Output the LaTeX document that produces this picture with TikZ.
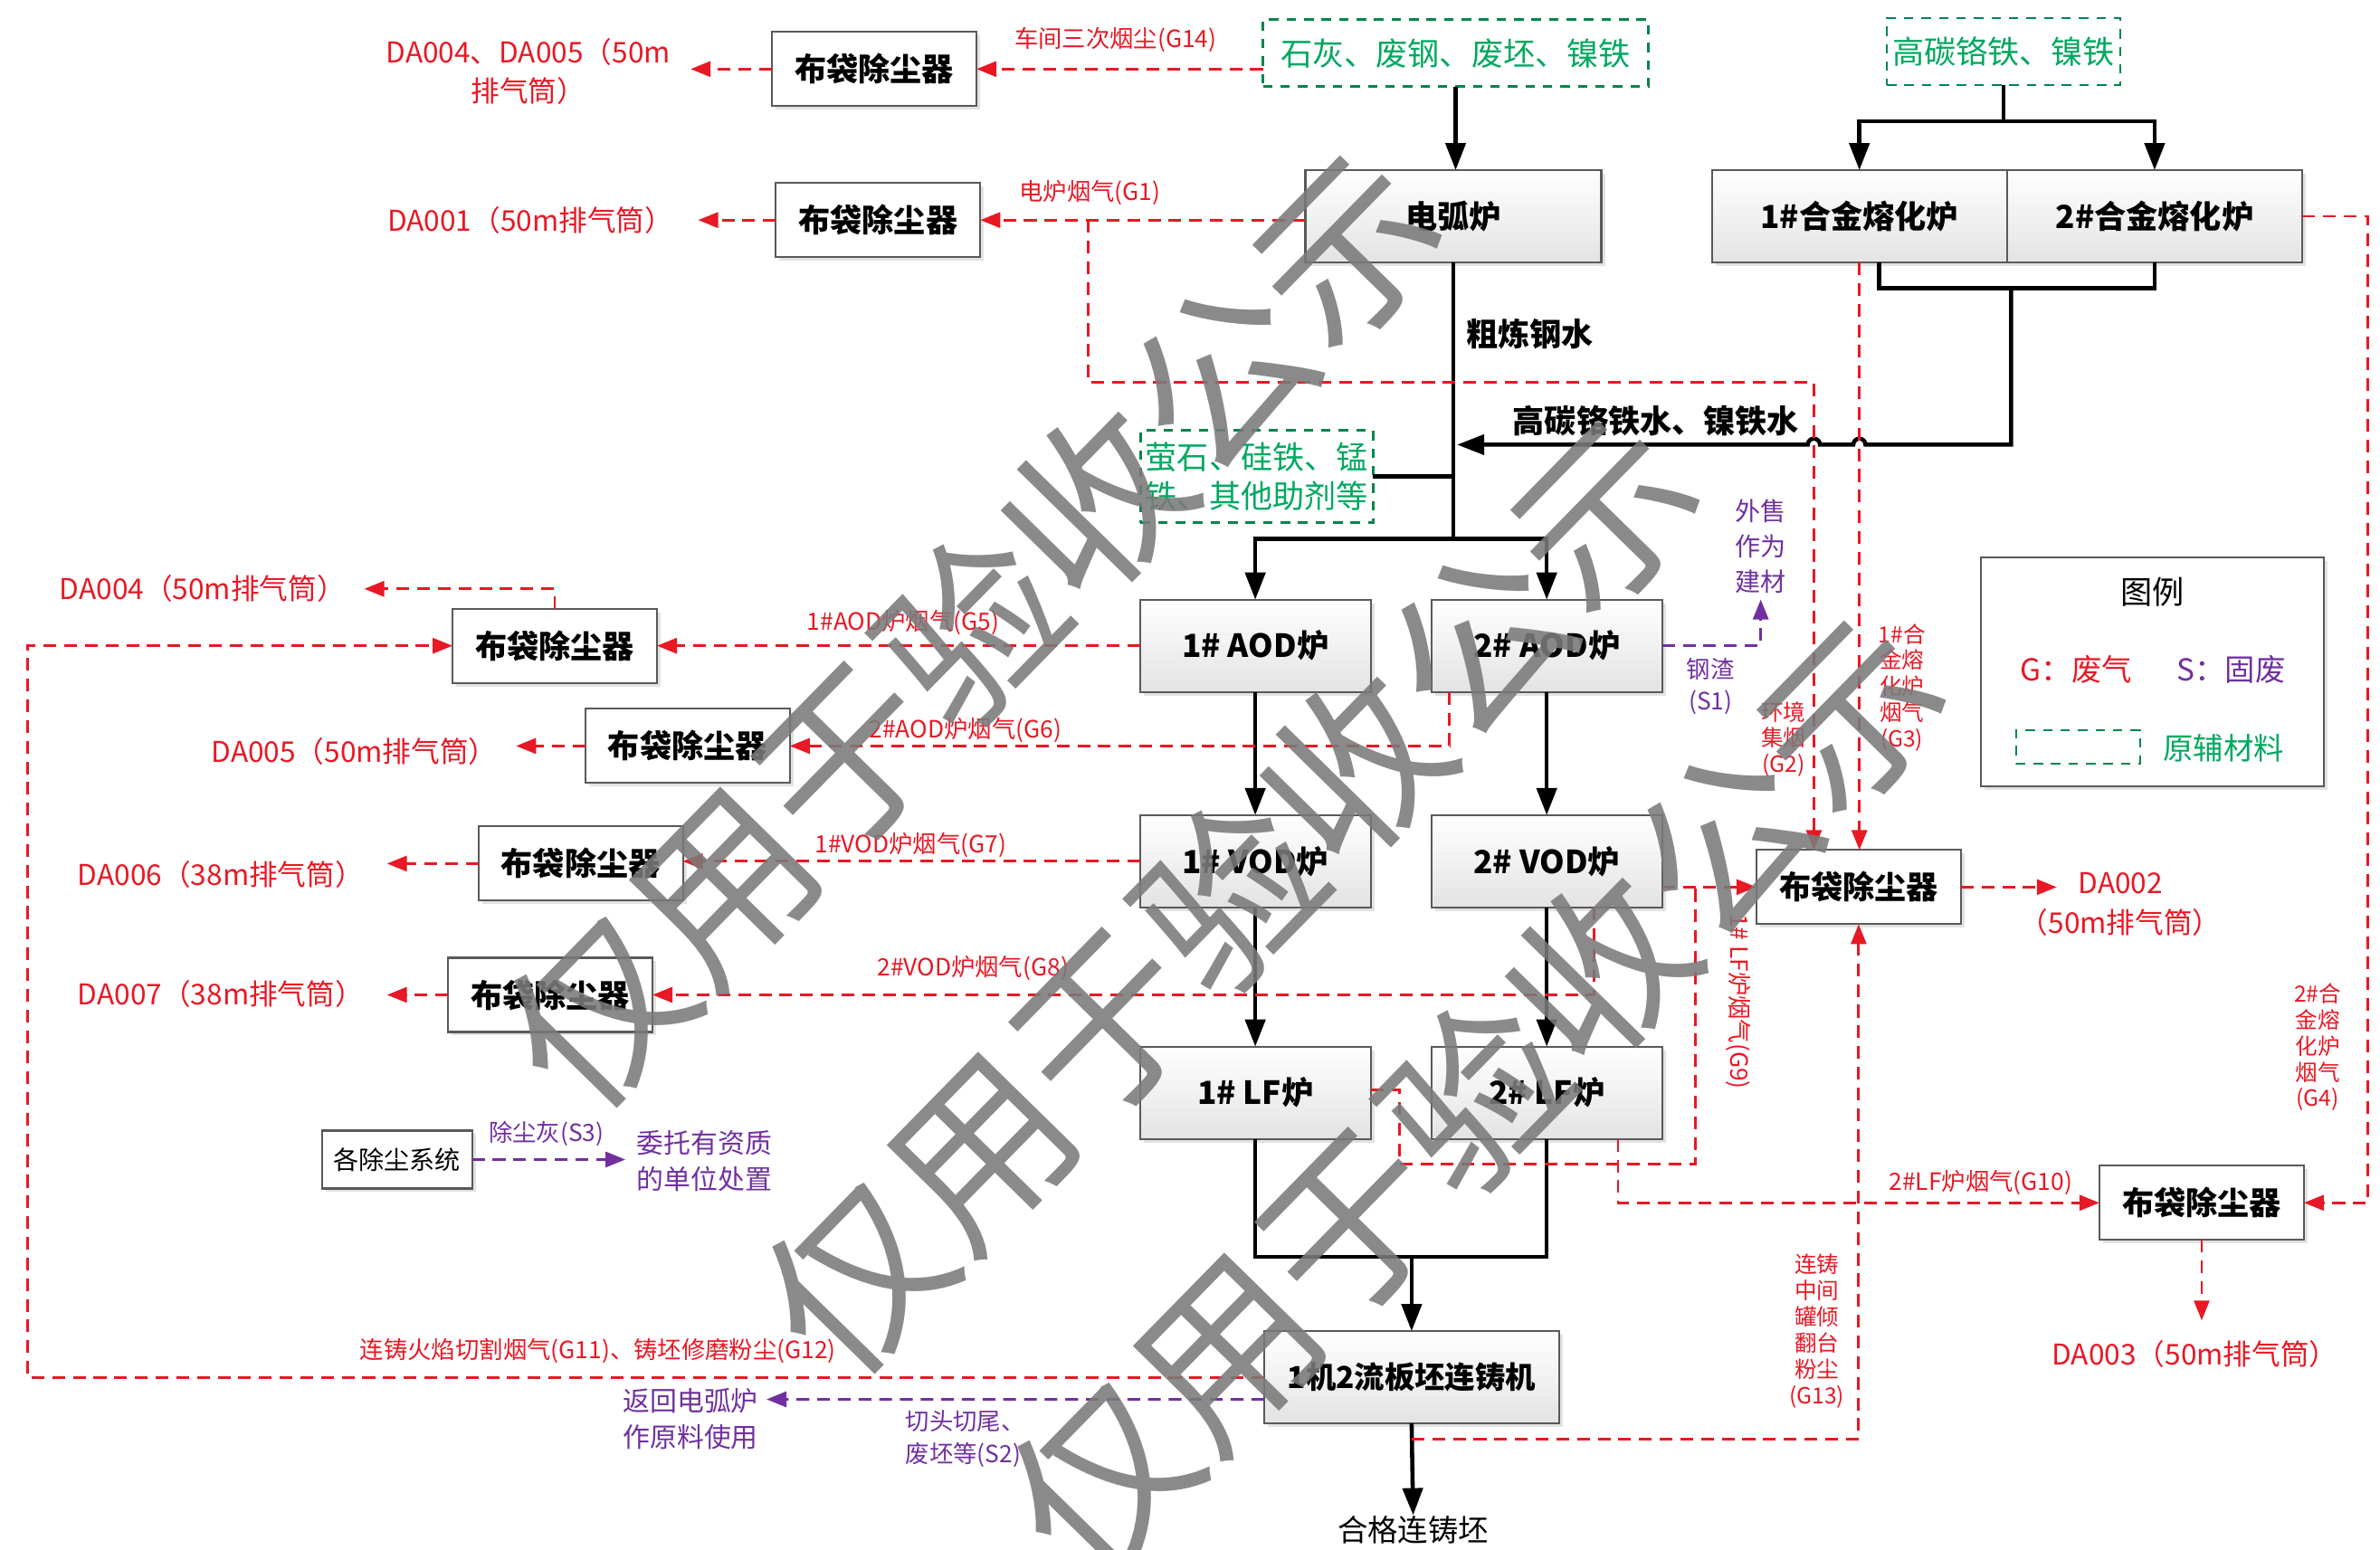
\documentclass[tikz,border=0pt]{standalone}
\usepackage{fontspec}
\setmainfont{Noto Sans CJK SC}
\usetikzlibrary{arrows.meta,shadows,calc}

\definecolor{gasred}{RGB}{232,24,36}
\definecolor{slagpurple}{RGB}{112,48,160}
\definecolor{rawgreen}{RGB}{0,168,96}

\tikzset{
  bagbox/.style={draw=gray!70!black,fill=white,line width=0.6pt,minimum width=22.6mm,minimum height=8.2mm,
    inner sep=0pt,outer sep=0pt,font=\bfseries\fontsize{10}{12}\selectfont,
    drop shadow={shadow xshift=0.4mm,shadow yshift=-0.4mm,fill=gray!45}},
  furnace/.style={draw=gray!70!black,top color=white,bottom color=gray!22,line width=0.6pt,
    minimum width=25.5mm,minimum height=10.2mm,inner sep=0pt,outer sep=0pt,
    font=\bfseries\fontsize{10}{12}\selectfont,
    drop shadow={shadow xshift=0.4mm,shadow yshift=-0.4mm,fill=gray!45}},
  rawbox/.style={draw=rawgreen!80!black,dash pattern=on 3pt off 2.5pt,line width=0.7pt,
    minimum height=7.4mm,inner sep=1pt,outer sep=0pt,text=rawgreen,font=\fontsize{10}{12.5}\selectfont},
  flow/.style={line width=1.3pt,black},
  flowarrow/.style={flow,-{Triangle[length=3mm,width=2.2mm]}},
  gas/.style={gasred,line width=0.8pt,dash pattern=on 4pt off 2.5pt},
  gasarrow/.style={gas,-{Triangle[length=2.2mm,width=1.7mm]}},
  slag/.style={slagpurple,line width=0.8pt,dash pattern=on 4pt off 2.5pt,-{Triangle[length=2.2mm,width=1.7mm]}},
  gaslabel/.style={text=gasred,inner sep=0pt,font=\fontsize{7.5}{9}\selectfont},
  stacklabel/.style={text=gasred,inner sep=0pt,align=center,font=\fontsize{7}{8.2}\selectfont},
  slaglabel/.style={text=slagpurple,inner sep=0pt,align=center,font=\fontsize{7.5}{10}\selectfont},
  outlet/.style={text=gasred,inner sep=0pt,align=center,font=\fontsize{9}{12.4}\selectfont},
  plain/.style={inner sep=0pt,font=\fontsize{9.5}{11}\selectfont},
  boldtext/.style={inner sep=0pt,font=\bfseries\fontsize{10}{12}\selectfont},
  watermark/.style={text=black!52,text opacity=0.88,inner sep=0pt,font=\fontsize{56}{60}\selectfont}
}

\begin{document}
\begin{tikzpicture}[x=0.16773mm,y=-0.16773mm]
\useasboundingbox (0,0) rectangle (1568,1021);

% raw materials
\draw (959,35) node[rawbox,minimum width=42.6mm](rawa){石灰、废钢、废坯、镍铁};
\draw (1320,34) node[rawbox,minimum width=25.8mm](rawb){高碳铬铁、镍铁};
\draw (828,314) node[rawbox,minimum width=25.7mm,minimum height=10.2mm,align=left](rawc){萤石、硅铁、锰\\铁、其他助剂等};

% furnaces
\draw (957.5,142.5) node[furnace,minimum width=32.7mm](eaf){电弧炉};
\draw (1225,142.5) node[furnace,minimum width=32.6mm](alloya){1\#合金熔化炉};
\draw (1419.5,142.5) node[furnace,minimum width=32.6mm](alloyb){2\#合金熔化炉};
\draw (827,425.5) node[furnace](aoda){1\# AOD炉};
\draw (1019,425.5) node[furnace](aodb){2\# AOD炉};
\draw (827,567.5) node[furnace](voda){1\# VOD炉};
\draw (1019,567.5) node[furnace](vodb){2\# VOD炉};
\draw (827,720) node[furnace](lfa){1\# LF炉};
\draw (1019,720) node[furnace](lfb){2\# LF炉};
\draw (930,907.5) node[furnace,minimum width=32.6mm,font=\bfseries\fontsize{9.5}{11}\selectfont](caster){1机2流板坯连铸机};
\draw (931,1008) node[plain](slab){合格连铸坯};

% bag filters
\draw (576,45.5) node[bagbox](baga){布袋除尘器};
\draw (578.5,145) node[bagbox](bagb){布袋除尘器};
\draw (365.5,425.5) node[bagbox](bagc){布袋除尘器};
\draw (453,491.5) node[bagbox](bagd){布袋除尘器};
\draw (382.5,569) node[bagbox](bage){布袋除尘器};
\draw (362.5,655.5) node[bagbox](bagf){布袋除尘器};
\draw (1224.5,584.5) node[bagbox](bagg){布袋除尘器};
\draw (1450.5,792.5) node[bagbox](bagh){布袋除尘器};
\draw (261.5,764) node[bagbox,minimum width=16.6mm,minimum height=6.4mm,font=\fontsize{8}{10}\selectfont](dustsys){各除尘系统};

% stacks
\draw (348,47) node[outlet](stackab){DA004、DA005（50m\\排气筒）};
\draw (444,145) node[outlet,anchor=east](stacka){DA001（50m排气筒）};
\draw (228,388) node[outlet,anchor=east](stackd){DA004（50m排气筒）};
\draw (328,495) node[outlet,anchor=east](stacke){DA005（50m排气筒）};
\draw (240,576) node[outlet,anchor=east](stackf){DA006（38m排气筒）};
\draw (240,655) node[outlet,anchor=east](stackg){DA007（38m排气筒）};
\draw (1397,596) node[outlet](stackb){DA002\\（50m排气筒）};
\draw (1446,892) node[outlet](stackc){DA003（50m排气筒）};

% free ends
\coordinate (outab) at (455,45.5);
\coordinate (outa) at (460,145);
\coordinate (outd) at (240,388);
\coordinate (oute) at (340,491.5);
\coordinate (outf) at (255,569);
\coordinate (outg) at (255,655.5);
\coordinate (outb) at (1355,584.5);
\coordinate (outc) at (1450.5,870);

% main flow
\draw[flowarrow] (rawa.south) -- (rawa.south |- eaf.north);
\coordinate (splitb) at (1320,80);
\draw[flow] (rawb.south) -- (splitb);
\draw[flowarrow] (splitb) -| (alloya.north);
\draw[flowarrow] (splitb) -| (alloyb.north);
\coordinate (mergeb) at (1325,190);
\coordinate (hotin) at (960,293);
\draw[flow] ($(alloya.south)+(13,0)$) |- (mergeb) -| (alloyb.south);
\draw[flowarrow] (mergeb) -- (1325,293) -- (1229,293) arc[start angle=0,end angle=-180,radius=4]
  -- (1199,293) arc[start angle=0,end angle=-180,radius=4] -- (hotin);
\coordinate (splita) at (957.5,355);
\draw[flow] (eaf.south) -- (splita);
\draw[flow] (rawc.east) -- (rawc.east -| eaf.south);
\draw[flowarrow] (splita) -| (aoda.north);
\draw[flowarrow] (splita) -| (aodb.north);
\draw[flowarrow] (aoda) -- (voda);
\draw[flowarrow] (aodb) -- (vodb);
\draw[flowarrow] (voda) -- (lfa);
\draw[flowarrow] (vodb) -- (lfb);
\coordinate (mergea) at (930,828);
\draw[flow] (lfa.south) |- (mergea) -| (lfb.south);
\draw[flowarrow] (mergea) -- (caster.north);
\draw[flowarrow] (caster.south) -- (slab.north);
\draw (1008,220) node[boldtext](crude){粗炼钢水};
\draw (1091,277) node[boldtext](hotmetal){高碳铬铁水、镍铁水};

% waste gas
\draw[gasarrow] (rawa.west |- baga.east) -- (baga.east);
\draw (735,26) node[gaslabel](lblgxiv){车间三次烟尘(G14)};
\draw[gasarrow] (baga.west) -- (outab);
\draw[gasarrow] (eaf.west |- bagb.east) -- (bagb.east);
\draw (718,127) node[gaslabel](lblgi){电炉烟气(G1)};
\draw[gasarrow] (bagb.west) -- (outa);
\coordinate (gtwoa) at (717,145);
\coordinate (gtwob) at (1195,252);
\draw[gasarrow] (gtwoa) |- (gtwob) -- (gtwob |- bagg.north);
\draw (1175,487) node[stacklabel](lblgii){环境\\集烟\\(G2)};
\draw[gasarrow] (alloya.south) -- (alloya.south |- bagg.north);
\draw (1253,453) node[stacklabel](lblgiii){1\#合\\金熔\\化炉\\烟气\\(G3)};
\coordinate (gfour) at (1560,142.5);
\draw[gasarrow] (alloyb.east) -- (gfour) |- (bagh.east);
\draw (1527,690) node[stacklabel](lblgiv){2\#合\\金熔\\化炉\\烟气\\(G4)};
\draw[gasarrow] (aoda.west) -- (bagc.east);
\draw (595,410) node[gaslabel](lblgv){1\#AOD炉烟气(G5)};
\draw[gasarrow] (bagc.north) |- (outd);
\coordinate (geleven) at (18,907.5);
\draw[gasarrow] (caster.west) -- (geleven) |- (bagc.west);
\draw (394,890) node[gaslabel](lblgxi){连铸火焰切割烟气(G11)、铸坯修磨粉尘(G12)};
\draw[gasarrow] ($(aodb.south west)+(12,0)$) |- (bagd.east);
\draw (636,481) node[gaslabel](lblgvi){2\#AOD炉烟气(G6)};
\draw[gasarrow] (bagd.west) -- (oute);
\draw[gasarrow] (voda.west) -- (voda.west -| bage.east);
\draw (600,557) node[gaslabel](lblgvii){1\#VOD炉烟气(G7)};
\draw[gasarrow] (bage.west) -- (outf);
\draw[gasarrow] ($(vodb.south)+(31,0)$) |- (bagf.east);
\draw (641,638) node[gaslabel](lblgviii){2\#VOD炉烟气(G8)};
\draw[gasarrow] (bagf.west) -- (outg);
\draw[gasarrow] (vodb.east |- bagg.west) -- (bagg.west);
\coordinate (gninea) at (922,767);
\coordinate (gnineb) at (1117,767);
\draw[gas] ($(lfa.east)+(0,-2)$) -| (gninea) -- (gnineb) -- (gnineb |- bagg.west);
\draw (1145,660) node[gaslabel,rotate=-90](lblgix){1\# LF炉烟气(G9)};
\draw[gasarrow] ($(lfb.south)+(47,0)$) |- (bagh.west);
\draw (1305,779) node[gaslabel](lblgx){2\#LF炉烟气(G10)};
\coordinate (gthirteen) at (1224.5,948);
\draw[gasarrow] (caster.south |- gthirteen) -- (gthirteen) -- (bagg.south);
\draw (1197,877) node[stacklabel](lblgxiii){连铸\\中间\\罐倾\\翻台\\粉尘\\(G13)};
\draw[gasarrow] (bagg.east) -- (outb);
\draw[gasarrow] (bagh.south) -- (outc);

% solid waste
\coordinate (sone) at (1160,425.5);
\coordinate (sonesale) at (1160,395);
\draw[slag] (aodb.east) -- (sone) -- (sonesale);
\draw (1160,360) node[slaglabel,font=\fontsize{8}{11}\selectfont](lblsale){外售\\作为\\建材};
\draw (1127,452) node[slaglabel](lblsi){钢渣\\(S1)};
\coordinate (sthree) at (412,764);
\draw[slag] (dustsys.east) -- (sthree);
\draw (360,747) node[slaglabel](lblsiii){除尘灰(S3)};
\draw (464,765) node[slaglabel,font=\fontsize{8.5}{11.5}\selectfont](lbldisposal){委托有资质\\的单位处置};
\coordinate (stwo) at (505,922);
\draw[slag] ($(caster.west)+(0,14.5)$) -- (stwo);
\draw (455,935) node[slaglabel,font=\fontsize{8.5}{11.5}\selectfont](lblreturn){返回电弧炉\\作原料使用};
\draw (636,948) node[slaglabel,align=left](lblsii){切头切尾、\\废坯等(S2)};

% legend
\draw (1418,442.5) node[draw=gray!70!black,line width=0.6pt,minimum width=37.9mm,minimum height=25.3mm,
  drop shadow={shadow xshift=0.4mm,shadow yshift=-0.4mm,fill=gray!45},fill=white](legend){};
\draw (1418,390) node[plain,font=\fontsize{10}{12}\selectfont](lgtitle){图例};
\draw (1368,441) node[plain,text=gasred](lggas){G：废气};
\draw (1470,441) node[plain,text=slagpurple](lgslag){S：固废};
\draw (1369,492) node[rawbox,minimum width=13.7mm,minimum height=3.7mm](lgraw){};
\draw (1465,493) node[plain,text=rawgreen](lgrawtext){原辅材料};

% watermark
\draw (640,415) node[watermark,rotate=45.6](wma){仅用于验收公示};
\draw (810,590) node[watermark,rotate=45.6](wmb){仅用于验收公示};
\draw (972,722) node[watermark,rotate=45.6](wmc){仅用于验收公示};
\end{tikzpicture}
\end{document}
